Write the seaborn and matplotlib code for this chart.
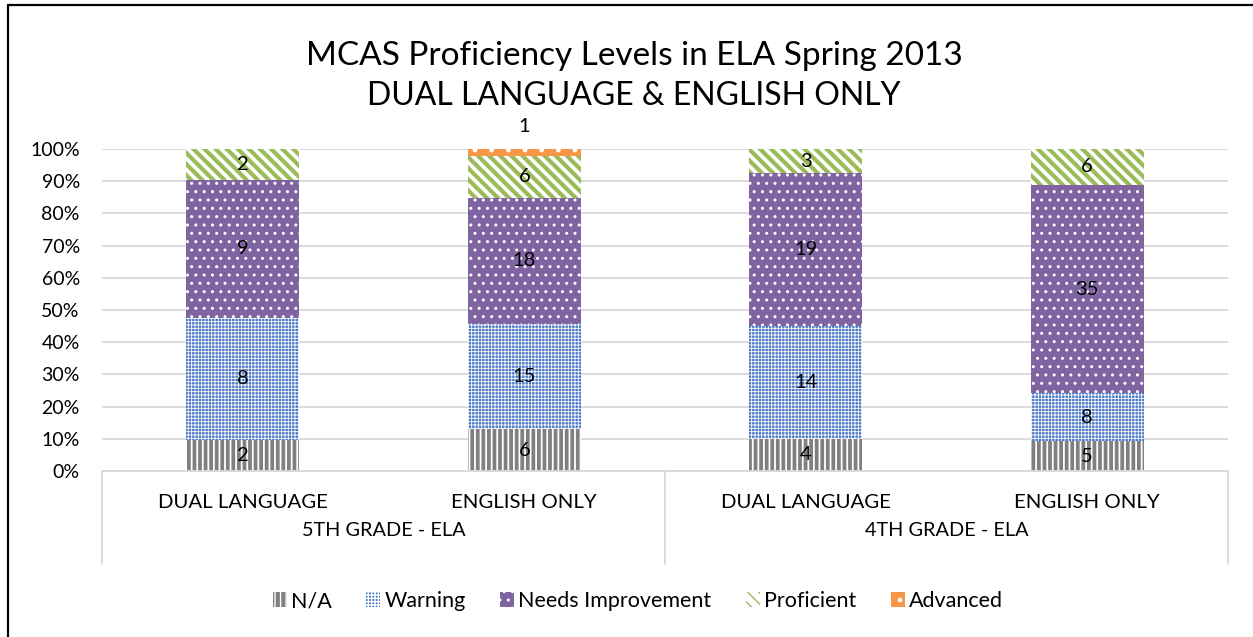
import numpy as np
import pandas as pd
import matplotlib
matplotlib.use("Agg")
import matplotlib.pyplot as plt
import seaborn as sns
from matplotlib.patches import Patch
from matplotlib.lines import Line2D
from matplotlib.ticker import PercentFormatter

# data (student counts)
grades = ["5TH GRADE - ELA", "4TH GRADE - ELA"]
programs = ["DUAL LANGUAGE", "ENGLISH ONLY"]
levels = ["N/A", "Warning", "Needs Improvement", "Proficient", "Advanced"]
na_counts = [2, 6, 4, 5]
warning_counts = [8, 15, 14, 8]
needs_counts = [9, 18, 19, 35]
proficient_counts = [2, 6, 3, 6]
advanced_counts = [0, 1, 0, 0]

# look of each level: face, hatch colour, hatch, hatch width
styles = {
    "N/A": ("#808080", "white", "|||", 1.3),
    "Warning": ("#4a78c8", "white", "+++++", 0.62),
    "Needs Improvement": ("#8064A2", "white", "..", 1.0),
    "Proficient": ("white", "#9BBB59", "\\\\\\", 3.0),
    "Advanced": ("#F79646", "white", ".", 1.0),
}

sns.set_theme(style="white")
plt.rcParams["font.family"] = ["Lato", "DejaVu Sans"]
text_col = "#000000"
grid_col = "#d9d9d9"

bars = [f"{g}|{p}" for g in grades for p in programs]
counts = pd.DataFrame({
    "bar": bars,
    "N/A": na_counts,
    "Warning": warning_counts,
    "Needs Improvement": needs_counts,
    "Proficient": proficient_counts,
    "Advanced": advanced_counts,
})
totals = counts[levels].sum(axis=1)
share = counts[levels].div(totals, axis=0)
cum = share.cumsum(axis=1)
cum["bar"] = bars

W, H = 1253, 637
fig = plt.figure(figsize=(W / 100, H / 100), dpi=100)
ax = fig.add_axes([102 / W, 1 - 471 / H, (1228 - 102) / W, (471 - 149) / H])

# stacked bars: draw cumulative totals from the top level down
for lvl in reversed(levels):
    face, hcol, hatch, hlw = styles[lvl]
    with plt.rc_context({"hatch.linewidth": hlw}):
        before = len(ax.patches)
        sns.barplot(data=cum, x="bar", y=lvl, order=bars, color=face,
                    saturation=1, width=0.4, edgecolor=hcol, linewidth=0,
                    hatch=hatch, ax=ax)
        for p in ax.patches[before:]:
            p.set_facecolor(face)
            if hasattr(p, "set_hatch_linewidth"):
                p.set_hatch_linewidth(hlw)

# data labels
for i in range(len(bars)):
    base = 0.0
    for lvl in levels:
        val = counts.loc[i, lvl]
        frac = share.loc[i, lvl]
        if val > 0:
            if frac < 0.04:
                y = base + frac + 0.07
            else:
                y = base + frac / 2
            ax.text(i, y, str(val), ha="center", va="center",
                    fontsize=14.5, color=text_col)
        base += frac

ax.set_ylim(0, 1)
ax.set_xlim(-0.5, len(bars) - 0.5)
ax.set_yticks(np.arange(0, 1.01, 0.1))
ax.yaxis.set_major_formatter(PercentFormatter(1.0, decimals=0))
ax.tick_params(axis="y", length=0, pad=16, labelsize=14, labelcolor=text_col)
ax.set_xticks([])
ax.set_xlabel("")
ax.set_ylabel("")
ax.yaxis.grid(True, color=grid_col, linewidth=1.3)
ax.set_axisbelow(True)
for s in ax.spines.values():
    s.set_visible(False)

# two-level category axis
box_bottom = (471 - 564) / (471 - 149)
ax.plot([-0.5, len(bars) - 0.5], [0, 0], color=grid_col, lw=1.3, clip_on=False)
for xv in [-0.5, 1.5, 3.5]:
    ax.plot([xv, xv], [0, box_bottom], color=grid_col, lw=1.3, clip_on=False)
sub_y = (471 - 503) / (471 - 149)
grp_y = (471 - 531) / (471 - 149)
for i, b in enumerate(bars):
    ax.text(i, sub_y, b.split("|")[1], ha="center", va="center",
            fontsize=14.7, color=text_col, clip_on=False)
for j, g in enumerate(grades):
    ax.text(2 * j + 0.5, grp_y, g, ha="center", va="center",
            fontsize=14.3, color=text_col, clip_on=False)

# title
fig.text(634 / W, 1 - 56 / H, "MCAS Proficiency Levels in ELA Spring 2013",
         ha="center", va="center", fontsize=24, color=text_col)
fig.text(634 / W, 1 - 96 / H, "DUAL LANGUAGE & ENGLISH ONLY",
         ha="center", va="center", fontsize=23, color=text_col)

# legend
handles = []
for lvl in levels:
    face, hcol, hatch, hlw = styles[lvl]
    handles.append(Patch(facecolor=face, edgecolor=hcol, linewidth=0,
                         hatch=hatch, label=lvl))
fig.legend(handles=handles, loc="center", ncol=5,
           bbox_to_anchor=(638 / W, 1 - 601 / H), frameon=False,
           fontsize=15.5, handlelength=0.65, handleheight=0.65,
           handletextpad=0.2, columnspacing=1.6, labelcolor=text_col)

# chart frame (right/bottom edges fall outside the picture)
fig.add_artist(Line2D([8 / W, 8 / W], [0, 1 - 5 / H], color="black", lw=1.6,
                      transform=fig.transFigure))
fig.add_artist(Line2D([8 / W, 1], [1 - 5 / H, 1 - 5 / H], color="black", lw=1.6,
                      transform=fig.transFigure))

fig.savefig("out.png", dpi=100)
